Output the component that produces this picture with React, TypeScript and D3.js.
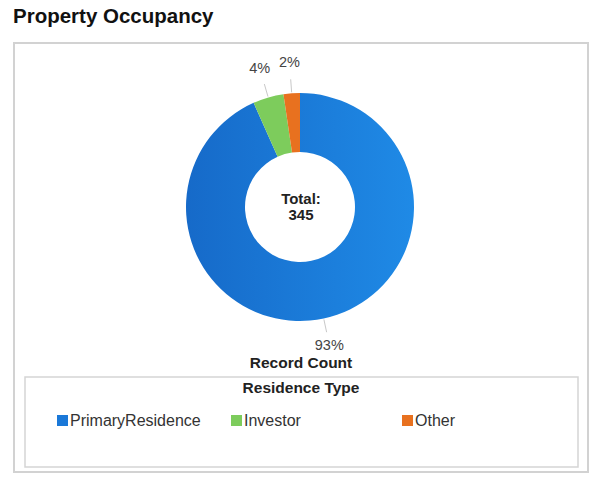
import React from "react";
import * as d3 from "d3";

const categories = ["PrimaryResidence", "Investor", "Other"];
const counts = [322, 15, 8];
const colors = ["#1a78d8", "#7dcc5c", "#e8711f"];
const titleText = "Property Occupancy";
const measureLabel = "Record Count";
const legendTitle = "Residence Type";

const W = 615;
const H = 485;
const FONT = "'Liberation Sans', Arial, Helvetica, sans-serif";

export default function App() {
  const total = d3.sum(counts);
  const cx = 300;
  const cy = 207;
  const R = 114;
  const r = 55;
  const data = categories.map((c, i) => ({ name: c, value: counts[i], color: colors[i] }));
  const pie = d3.pie<any>().sort(null).value((d: any) => d.value);
  const arcs = pie(data);
  const arc = d3.arc<any>().innerRadius(r).outerRadius(R);
  const fmt = (v: number) => `${Math.round((v / total) * 100)}%`;

  const labels = arcs.map((a, i) => {
    const mid = (a.startAngle + a.endAngle) / 2;
    const sx = Math.sin(mid), sy = -Math.cos(mid);
    const p0 = [cx + sx * (R + 1), cy + sy * (R + 1)];
    const p1 = [cx + sx * (R + 14), cy + sy * (R + 14)];
    const tr = sy > 0 ? R + 27 : R + 31;
    const tx = cx + sx * tr;
    const ty = cy + sy * tr;
    return { i, mid, p0, p1, tx, ty, text: fmt(a.data.value) };
  });

  const legendX = [57, 231, 402];

  return (
    <svg width={W} height={H} style={{ position: "absolute", left: 0, top: 0, background: "#fff" }} fontFamily={FONT}>
      <defs>
        <linearGradient id="blueGrad" x1="0" y1="0" x2="1" y2="0" gradientUnits="objectBoundingBox">
          <stop offset="0" stopColor="#166ac9" />
          <stop offset="1" stopColor="#1f8ae6" />
        </linearGradient>
      </defs>
      <text x={13} y={23} fontSize={20.5} fontWeight="bold" fill="#111">{titleText}</text>
      <rect x={14} y={43} width={574} height={429} fill="#fff" stroke="#d2d2d2" strokeWidth={2} />

      <g>
        {arcs.map((a, i) => (
          <path key={i} d={arc(a) as string} transform={`translate(${cx},${cy})`}
            fill={i === 0 ? "url(#blueGrad)" : a.data.color} />
        ))}
      </g>
      {labels.map((l) => (
        <g key={l.i}>
          <line x1={l.p0[0]} y1={l.p0[1]} x2={l.p1[0]} y2={l.p1[1]} stroke="#c8c8c8" strokeWidth={1} />
          <text x={l.tx} y={l.ty} fontSize={14.5} fill="#444" textAnchor="middle" dominantBaseline="central">{l.text}</text>
        </g>
      ))}
      <text x={cx + 1} y={204} fontSize={15} fontWeight="bold" fill="#222" textAnchor="middle">Total:</text>
      <text x={cx + 1} y={220} fontSize={15} fontWeight="bold" fill="#222" textAnchor="middle">{total}</text>

      <text x={301} y={368} fontSize={15.5} fontWeight="bold" fill="#222" textAnchor="middle">{measureLabel}</text>

      <rect x={25} y={377} width={553} height={90} fill="#fff" stroke="#d5d5d5" strokeWidth={1.5} />
      <text x={301} y={393} fontSize={15.5} fontWeight="bold" fill="#222" textAnchor="middle">{legendTitle}</text>
      {data.map((d, i) => (
        <g key={d.name}>
          <rect x={legendX[i]} y={415} width={11} height={11} fill={d.color} />
          <text x={legendX[i] + 13} y={426} fontSize={16} fill="#333">{d.name}</text>
        </g>
      ))}
    </svg>
  );
}
